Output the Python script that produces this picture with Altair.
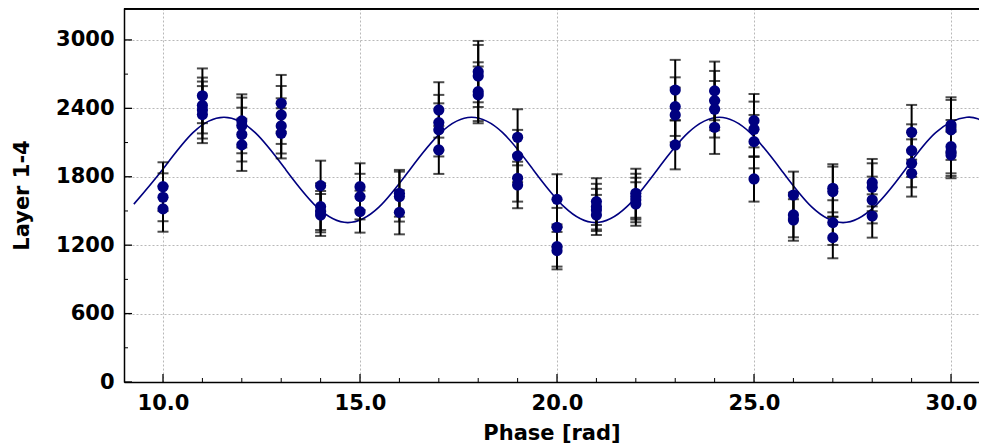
import altair as alt
import pandas as pd

# ---- data ----
phases = list(range(10, 31))
values = [
    [1713, 1620, 1518],
    [2510, 2425, 2385, 2345],
    [2290, 2250, 2170, 2080],
    [2444, 2342, 2246, 2181],
    [1722, 1538, 1494, 1465],
    [1713, 1626, 1494],
    [1655, 1626, 1488],
    [2386, 2275, 2211, 2035],
    [2722, 2684, 2546, 2518],
    [2146, 1982, 1787, 1728],
    [1602, 1357, 1187, 1152],
    [1582, 1538, 1509, 1465],
    [1655, 1626, 1596, 1561],
    [2561, 2415, 2342, 2079],
    [2553, 2468, 2392, 2234],
    [2292, 2216, 2108, 1781],
    [1640, 1465, 1421],
    [1699, 1670, 1398, 1266],
    [1748, 1708, 1596, 1456],
    [2190, 2029, 1918, 1830],
    [2254, 2211, 2064, 2020, 1991],
]
errors = [
    [214, 210, 200],
    [240, 245, 250, 250],
    [233, 244, 236, 229],
    [249, 254, 242, 220],
    [219, 205, 181, 184],
    [205, 200, 184],
    [205, 219, 193],
    [243, 243, 233, 210],
    [269, 272, 258, 249],
    [246, 229, 205, 204],
    [220, 170, 175, 164],
    [205, 200, 185, 176],
    [215, 200, 195, 190],
    [264, 257, 240, 214],
    [257, 260, 248, 234],
    [234, 243, 234, 199],
    [205, 196, 182],
    [211, 219, 196, 181],
    [208, 210, 205, 190],
    [240, 231, 210, 204],
    [243, 263, 234, 213, 204],
]

# fitted curve
fit_x = [9.26, 9.98, 10.76, 11.55, 12.34, 13.12, 13.91, 14.69, 15.48, 16.26,
         17.05, 17.83, 18.62, 19.40, 20.19, 20.97, 21.76, 22.54, 23.33, 24.12,
         24.90, 25.69, 26.47, 27.26, 28.04, 28.83, 29.61, 30.40, 30.89]
fit_y = [1560, 1860, 2187, 2322, 2187, 1860, 1533, 1398, 1533, 1860,
         2187, 2322, 2187, 1860, 1533, 1398, 1533, 1860, 2187, 2322,
         2187, 1860, 1533, 1398, 1533, 1860, 2187, 2322, 2268]

x_major = [10, 15, 20, 25, 30]
x_minor = [11, 12, 13, 14, 16, 17, 18, 19, 21, 22, 23, 24, 26, 27, 28, 29]
y_major = [0, 600, 1200, 1800, 2400, 3000]
y_minor = [300, 900, 1500, 2100, 2700]

# ---- tables ----
rows = []
for p, vs, es in zip(phases, values, errors):
    for v, e in zip(vs, es):
        rows.append({"phase": p, "value": v, "lo": v - e, "hi": v + e})
df = pd.DataFrame(rows)
fit = pd.DataFrame({"phase": fit_x, "value": fit_y})
xmaj = pd.DataFrame({"t": x_major})
xmin = pd.DataFrame({"t": x_minor})
ymaj = pd.DataFrame({"t": y_major})
ymin = pd.DataFrame({"t": y_minor})

W, H = 855, 374
FONT = "DejaVu Sans"
NAVY = "#000080"

xs = alt.Scale(domain=[9.01, 30.71], nice=False, zero=False)
ys = alt.Scale(domain=[0, 3280], nice=False, zero=False)

x_axis = alt.Axis(values=x_major, format=".1f", title="Phase [rad]", ticks=False, tickSize=0,
                  labelPadding=10, titlePadding=9, grid=True)
y_axis = alt.Axis(values=y_major, format="d", title="Layer 1-4", ticks=False, tickSize=0,
                  labelPadding=10, titlePadding=23, grid=True)

base_x = alt.X("phase:Q", scale=xs, axis=x_axis)
base_y = alt.Y("value:Q", scale=ys, axis=y_axis)

curve = alt.Chart(fit).mark_line(color=NAVY, strokeWidth=1.6, interpolate="natural").encode(
    x=base_x, y=base_y)

bars = alt.Chart(df).mark_rule(color="black", strokeWidth=2).encode(
    x=alt.X("phase:Q", scale=xs), y=alt.Y("lo:Q", scale=ys), y2="hi:Q")
cap_lo = alt.Chart(df).mark_tick(color="black", orient="horizontal", size=11, thickness=2).encode(
    x=alt.X("phase:Q", scale=xs), y=alt.Y("lo:Q", scale=ys))
cap_hi = alt.Chart(df).mark_tick(color="black", orient="horizontal", size=11, thickness=2).encode(
    x=alt.X("phase:Q", scale=xs), y=alt.Y("hi:Q", scale=ys))

pts = alt.Chart(df).mark_circle(color=NAVY, size=125, opacity=1).encode(
    x=alt.X("phase:Q", scale=xs), y=alt.Y("value:Q", scale=ys))

xt_maj = alt.Chart(xmaj).mark_rule(color="black", strokeWidth=1.3).encode(
    x=alt.X("t:Q", scale=xs), y=alt.value(H), y2=alt.value(H - 8))
xt_min = alt.Chart(xmin).mark_rule(color="black", strokeWidth=1).encode(
    x=alt.X("t:Q", scale=xs), y=alt.value(H), y2=alt.value(H - 4))
yt_maj = alt.Chart(ymaj).mark_rule(color="black", strokeWidth=1.3).encode(
    y=alt.Y("t:Q", scale=ys), x=alt.value(0), x2=alt.value(8))
yt_min = alt.Chart(ymin).mark_rule(color="black", strokeWidth=1).encode(
    y=alt.Y("t:Q", scale=ys), x=alt.value(0), x2=alt.value(4))

top = alt.Chart(xmaj).mark_rule(color="black", strokeWidth=1.6).encode(
    y=alt.value(0.8), x=alt.value(0), x2=alt.value(W))

chart = alt.layer(curve, bars, cap_lo, cap_hi, pts, xt_maj, xt_min, yt_maj, yt_min, top).properties(
    width=W, height=H,
    autosize=alt.AutoSizeParams(type="none"),
    padding={"left": 116, "top": 0, "right": 0, "bottom": 62},
).configure_view(stroke=None).configure_axis(
    labelFont=FONT, titleFont=FONT, labelFontSize=21, titleFontSize=21,
    labelFontWeight="bold", titleFontWeight="bold", labelColor="black", titleColor="black",
    domainColor="black", domainWidth=1.5,
    gridColor="#b8b8b8", gridDash=[2, 2], gridWidth=1,
)

chart.save("out.html", embed_options={"renderer": "svg", "actions": False})
